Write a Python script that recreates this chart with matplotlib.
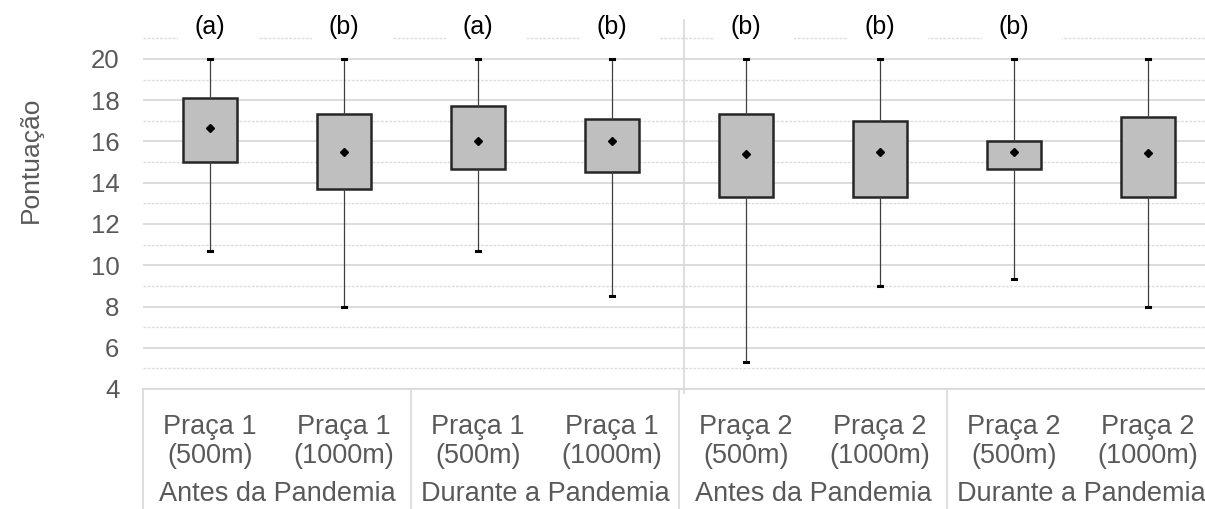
import matplotlib
matplotlib.use("Agg")
import matplotlib.pyplot as plt
from matplotlib.patches import Rectangle
from matplotlib.transforms import blended_transform_factory

plt.rcParams['font.family'] = ['Liberation Sans', 'DejaVu Sans']

# data
categories = ["Praça 1\n(500m)", "Praça 1\n(1000m)", "Praça 1\n(500m)", "Praça 1\n(1000m)",
              "Praça 2\n(500m)", "Praça 2\n(1000m)", "Praça 2\n(500m)", "Praça 2\n(1000m)"]
groups = ["Antes da Pandemia", "Durante a Pandemia", "Antes da Pandemia", "Durante a Pandemia"]
letters = ["(a)", "(b)", "(a)", "(b)", "(b)", "(b)", "(b)", ""]
whis_low = [10.67, 8.0, 10.67, 8.5, 5.33, 9.0, 9.33, 8.0]
q1 = [15.0, 13.7, 14.67, 14.5, 13.33, 13.33, 14.67, 13.3]
q3 = [18.1, 17.33, 17.7, 17.1, 17.33, 17.0, 16.0, 17.17]
whis_high = [20, 20, 20, 20, 20, 20, 20, 20]
means = [16.67, 15.5, 16.0, 16.0, 15.4, 15.5, 15.5, 15.45]

W, H = 1205, 509
fig = plt.figure(figsize=(W / 100, H / 100), dpi=100)
ymin, ymax = 4, 21.1
px_unit = 20.625
ax_bottom_px = 389
ax_h_px = (ymax - ymin) * px_unit
ax_left_px = 143
ax_w_px = 8 * 134
ax = fig.add_axes([ax_left_px / W, 1 - ax_bottom_px / H, ax_w_px / W, ax_h_px / H])

stats = []
for i in range(len(categories)):
    stats.append(dict(med=means[i], q1=q1[i], q3=q3[i], whislo=whis_low[i],
                      whishi=whis_high[i], mean=means[i], fliers=[]))

ax.bxp(stats, positions=range(len(categories)), widths=0.41, showmeans=True,
       patch_artist=True, showfliers=False, capwidths=0.035,
       boxprops=dict(facecolor='#BFBFBF', edgecolor='#262626', linewidth=1.8),
       whiskerprops=dict(color='#404040', linewidth=0.9),
       capprops=dict(color='black', linewidth=2.2),
       medianprops=dict(linewidth=0),
       meanprops=dict(marker='D', markerfacecolor='black', markeredgecolor='black',
                      markersize=4.5))

ax.set_xlim(-0.5, 7.5)
ax.set_ylim(ymin, ymax)
ax.set_yticks(range(4, 21, 2))
ax.set_yticks(range(5, 22, 2), minor=True)
ax.grid(True, which='major', axis='y', color='#D9D9D9', linewidth=1.3)
ax.grid(True, which='minor', axis='y', color='#DDDDDD', linewidth=1.0, linestyle=(0, (2, 1)))
ax.set_axisbelow(True)
ax.tick_params(axis='y', which='both', length=0, pad=17, labelsize=18.5, labelcolor='#595959')
ax.tick_params(axis='x', which='both', length=0, labelbottom=False)
for s in ['top', 'right', 'left']:
    ax.spines[s].set_visible(False)
ax.spines['bottom'].set_color('#D9D9D9')
ax.spines['bottom'].set_linewidth(1.2)

# letters on top, with white gaps in the 21 gridline
for i, lab in enumerate(letters):
    if not lab:
        continue
    ax.add_patch(Rectangle((i - 0.24, 20.85), 0.6, 0.4, facecolor='white',
                           edgecolor='none', zorder=1.5, clip_on=False))
    ax.text(i, 21.55, lab, ha='center', va='center', fontsize=18, color='black')

# multi-level category axis below the plot
tr = blended_transform_factory(ax.transData, ax.transAxes)
table_bottom = -(H - ax_bottom_px) / ax_h_px
for xb in [-0.5, 1.5, 3.5, 5.5]:
    ax.plot([xb, xb], [0, table_bottom], transform=tr, color='#D9D9D9',
            linewidth=1.2, clip_on=False)
for i, c in enumerate(categories):
    ax.text(i, -(414 - ax_bottom_px) / ax_h_px, c, transform=tr, ha='center',
            va='top', fontsize=19.5, color='#595959', linespacing=1.15)
for g, name in enumerate(groups):
    ax.text(2 * g + 0.5, -(494 - ax_bottom_px) / ax_h_px, name, transform=tr,
            ha='center', va='center', fontsize=19.5, color='#595959')

# divider between the two squares
ax.plot([3.537, 3.537], [-0.01, (ax_bottom_px - 20) / ax_h_px], transform=tr,
        color='#D9D9D9', linewidth=1.2, clip_on=False)

fig.text(31 / W, 1 - 160 / H, "Pontuação", rotation=90, ha='center', va='center',
         fontsize=19, color='#595959')

fig.savefig("out.png", dpi=100)
